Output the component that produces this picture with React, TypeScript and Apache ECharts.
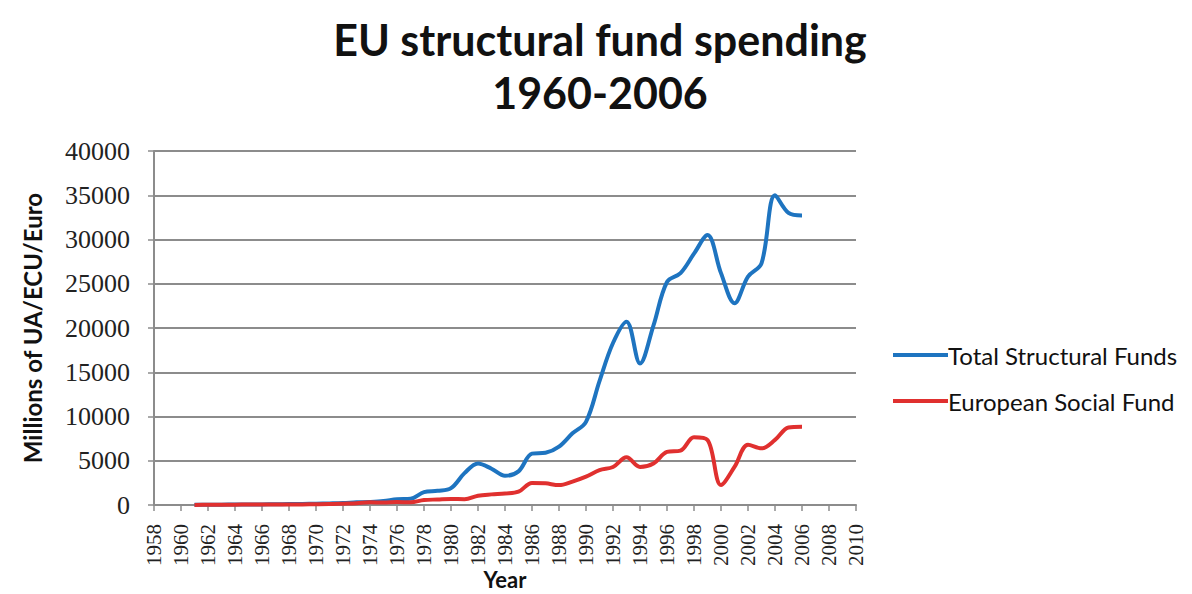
import React, { useEffect, useRef } from "react";
import * as echarts from "echarts";

const years = [
  1961, 1962, 1963, 1964, 1965, 1966, 1967, 1968, 1969, 1970,
  1971, 1972, 1973, 1974, 1975, 1976, 1977, 1978, 1979, 1980,
  1981, 1982, 1983, 1984, 1985, 1986, 1987, 1988, 1989, 1990,
  1991, 1992, 1993, 1994, 1995, 1996, 1997, 1998, 1999, 2000,
  2001, 2002, 2003, 2004, 2005, 2006,
];

const totalStructuralFunds = [
  20, 30, 40, 50, 60, 70, 80, 100, 120, 150,
  180, 220, 300, 350, 450, 650, 700, 1450, 1600, 1900,
  3600, 4700, 4100, 3300, 3800, 5800, 5900, 6600, 8100, 9400,
  14000, 18300, 20700, 16000, 20300, 25200, 26200, 28400, 30500, 26200,
  22800, 25800, 27300, 35000, 33000, 32700,
];

const europeanSocialFund = [
  10, 20, 30, 40, 50, 55, 60, 65, 70, 80,
  100, 150, 200, 300, 280, 340, 300, 560, 620, 680,
  650, 1050, 1200, 1300, 1500, 2500, 2450, 2250, 2650, 3200,
  3950, 4300, 5400, 4300, 4700, 6000, 6150, 7650, 7350, 2250,
  4300, 6800, 6400, 7350, 8750, 8850,
];

const titleText = "EU structural fund spending\n1960-2006";
const seriesNames = ["Total Structural Funds", "European Social Fund"];

export default function App() {
  const ref = useRef<HTMLDivElement>(null);
  useEffect(() => {
    document.body.style.margin = "0";
    const chart = echarts.init(ref.current!, null, { renderer: "svg" });
    const sans = "Lato, 'Open Sans', sans-serif";
    const serif = "'Liberation Serif', 'DejaVu Serif', serif";
    chart.setOption({
      animation: false,
      backgroundColor: "#ffffff",
      title: {
        text: titleText,
        left: 595,
        textAlign: "center",
        top: 8,
        textStyle: {
          fontFamily: sans,
          fontWeight: "bold",
          fontSize: 43,
          lineHeight: 53,
          color: "#111111",
        },
      },
      legend: {
        orient: "vertical",
        left: 888,
        top: 338,
        itemGap: 22,
        itemWidth: 55,
        itemHeight: 4,
        icon: "rect",
        textStyle: { fontFamily: sans, fontSize: 24, color: "#111111", padding: [0, 0, 0, -5] },
        data: seriesNames,
      },
      grid: { left: 154, right: 336, top: 151, bottom: 89, outerBoundsMode: "none", containLabel: false },
      xAxis: {
        type: "value",
        min: 1958,
        max: 2010,
        interval: 2,
        name: "Year",
        nameLocation: "middle",
        nameGap: 63,
        nameMoveOverlap: false,
        nameTextStyle: { fontFamily: sans, fontWeight: "bold", fontSize: 22, lineHeight: 22, color: "#111111" },
        axisLine: { show: true, lineStyle: { color: "#8c8c8c", width: 2 } },
        axisTick: { show: true, length: 6, lineStyle: { color: "#8c8c8c", width: 1.5 } },
        splitLine: { show: false },
        axisLabel: {
          rotate: 90,
          fontFamily: serif,
          fontSize: 21,
          color: "#222222",
          margin: 19,
          formatter: (v: number) => String(v),
        },
      },
      yAxis: {
        type: "value",
        min: 0,
        max: 40000,
        interval: 5000,
        name: "Millions of UA/ECU/Euro",
        nameLocation: "middle",
        nameRotate: 90,
        nameGap: 110,
        nameMoveOverlap: false,
        nameTextStyle: { fontFamily: sans, fontWeight: "bold", fontSize: 24, color: "#111111" },
        axisLine: { show: true, lineStyle: { color: "#8c8c8c", width: 2 } },
        axisTick: { show: true, length: 6, lineStyle: { color: "#8c8c8c", width: 1.5 } },
        splitLine: { show: true, lineStyle: { color: "#8c8c8c", width: 2 } },
        axisLabel: {
          fontFamily: serif,
          fontSize: 26,
          color: "#222222",
          margin: 24,
          formatter: (v: number) => String(v),
        },
      },
      series: [
        {
          name: seriesNames[0],
          type: "line",
          smooth: 0.35,
          showSymbol: false,
          symbol: "none",
          color: "#1e74c0",
          lineStyle: { width: 4, color: "#1e74c0" },
          data: years.map((y, i) => [y, totalStructuralFunds[i]]),
          z: 3,
        },
        {
          name: seriesNames[1],
          type: "line",
          smooth: 0.35,
          showSymbol: false,
          symbol: "none",
          color: "#e0302f",
          lineStyle: { width: 4, color: "#e0302f" },
          data: years.map((y, i) => [y, europeanSocialFund[i]]),
          z: 4,
        },
      ],
    });
    return () => chart.dispose();
  }, []);
  return <div ref={ref} style={{ width: 1192, height: 594 }} />;
}
